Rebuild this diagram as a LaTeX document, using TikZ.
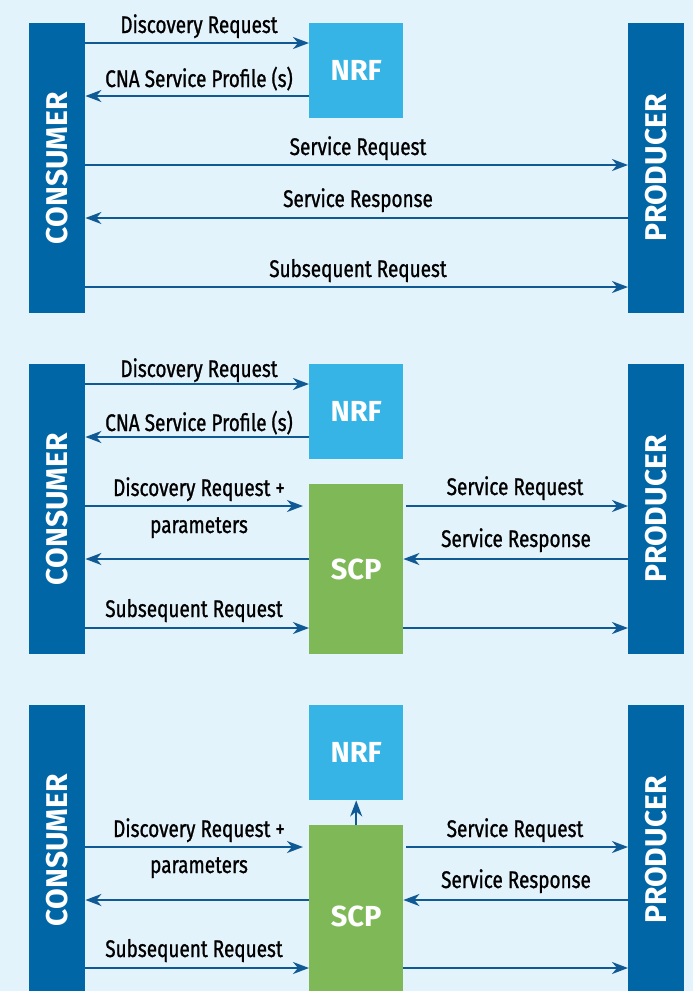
\documentclass[tikz,border=0pt]{standalone}
\usepackage{fontspec}
\setmainfont{Fira Sans}
\newfontfamily\lblfont{Fira Sans}[FakeStretch=0.79,FakeBold=1.0]
\usetikzlibrary{arrows.meta}
\definecolor{bgc}{HTML}{E3F3FB}
\definecolor{barc}{HTML}{0066A6}
\definecolor{nrfc}{HTML}{36B4E5}
\definecolor{scpc}{HTML}{7FB957}
\definecolor{arrc}{HTML}{0F5A94}
\tikzset{
  bar/.style={fill=barc, draw=none, minimum width=56pt, minimum height=290pt, anchor=north west, inner sep=0pt},
  vtext/.style={text=white, rotate=90, inner sep=0pt, font=\bfseries\fontsize{30}{30}\selectfont},
  nrfbox/.style={fill=nrfc, draw=none, minimum width=94pt, minimum height=95pt, anchor=north west, inner sep=0pt, text=white, font=\bfseries\fontsize{29}{29}\selectfont},
  scpbox/.style={fill=scpc, draw=none, minimum width=94pt, minimum height=170pt, anchor=north west, inner sep=0pt, text=white, font=\bfseries\fontsize{29}{29}\selectfont},
  lbl/.style={anchor=base, inner sep=0pt, font=\lblfont\fontsize{24}{24}\selectfont},
  arr/.style={draw=arrc, line width=2pt, -{Stealth[length=16pt,width=12pt,inset=5pt]}}
}
\begin{document}
\begin{tikzpicture}[x=1pt,y=-1pt]
\useasboundingbox (0,0) rectangle (693,991);
\fill[bgc] (0,0) rectangle (693,991);
\clip (0,0) rectangle (693,991);

% ---------- Panel 1 ----------
\node[bar] (c1) at (29,23) {};
\node[vtext] (c1t) at (c1.center) {CONSUMER};
\node[bar] (p1) at (628,23) {};
\node[vtext] (p1t) at (p1.center) {PRODUCER};
\node[nrfbox] (n1) at (309,23) {NRF};

\draw[arr] (c1.east |- 0,43) -- (n1.west |- 0,43);
\draw[arr] (n1.west |- 0,96) -- (c1.east |- 0,96);
\draw[arr] (c1.east |- 0,165) -- (p1.west |- 0,165);
\draw[arr] (p1.west |- 0,218) -- (c1.east |- 0,218);
\draw[arr] (c1.east |- 0,287) -- (p1.west |- 0,287);

\node[lbl] (l11) at (199,33) {Discovery Request};
\node[lbl] (l12) at (199,87) {CNA Service Profile (s)};
\node[lbl] (l13) at (358,155) {Service Request};
\node[lbl] (l14) at (358,207) {Service Response};
\node[lbl] (l15) at (358,277) {Subsequent Request};

% ---------- Panel 2 ----------
\node[bar] (c2) at (29,364) {};
\node[vtext] (c2t) at (c2.center) {CONSUMER};
\node[bar] (p2) at (628,364) {};
\node[vtext] (p2t) at (p2.center) {PRODUCER};
\node[nrfbox] (n2) at (309,364) {NRF};
\node[scpbox] (s2) at (309,484) {SCP};

\draw[arr] (c2.east |- 0,384) -- (n2.west |- 0,384);
\draw[arr] (n2.west |- 0,437) -- (c2.east |- 0,437);
\draw[arr, shorten >=6pt] (c2.east |- 0,506) -- (s2.west |- 0,506);
\draw[arr] (s2.west |- 0,559) -- (c2.east |- 0,559);
\draw[arr] (c2.east |- 0,628) -- (s2.west |- 0,628);
\draw[arr, shorten <=3pt] (s2.east |- 0,506) -- (p2.west |- 0,506);
\draw[arr] (p2.west |- 0,559) -- (s2.east |- 0,559);
\draw[arr] (s2.east |- 0,628) -- (p2.west |- 0,628);

\node[lbl] (l21) at (199,377) {Discovery Request};
\node[lbl] (l22) at (199,431) {CNA Service Profile (s)};
\node[lbl] (l23) at (199,496) {Discovery Request +};
\node[lbl] (l24) at (199,533) {parameters};
\node[lbl] (l25) at (194,617) {Subsequent Request};
\node[lbl] (l26) at (515,495) {Service Request};
\node[lbl] (l27) at (516,547) {Service Response};

% ---------- Panel 3 ----------
\node[bar] (c3) at (29,705) {};
\node[vtext] (c3t) at (c3.center) {CONSUMER};
\node[bar] (p3) at (628,705) {};
\node[vtext] (p3t) at (p3.center) {PRODUCER};
\node[nrfbox] (n3) at (309,705) {NRF};
\node[scpbox, minimum height=182pt] (s3) at (309,825) {SCP};

\draw[arr] (s3.north) -- (n3.south);
\draw[arr, shorten >=6pt] (c3.east |- 0,847) -- (s3.west |- 0,847);
\draw[arr] (s3.west |- 0,900) -- (c3.east |- 0,900);
\draw[arr] (c3.east |- 0,968) -- (s3.west |- 0,968);
\draw[arr, shorten <=3pt] (s3.east |- 0,847) -- (p3.west |- 0,847);
\draw[arr] (p3.west |- 0,900) -- (s3.east |- 0,900);
\draw[arr] (s3.east |- 0,968) -- (p3.west |- 0,968);

\node[lbl] (l31) at (199,837) {Discovery Request +};
\node[lbl] (l32) at (199,873) {parameters};
\node[lbl] (l33) at (194,957) {Subsequent Request};
\node[lbl] (l34) at (515,837) {Service Request};
\node[lbl] (l35) at (516,888) {Service Response};
\end{tikzpicture}
\end{document}
